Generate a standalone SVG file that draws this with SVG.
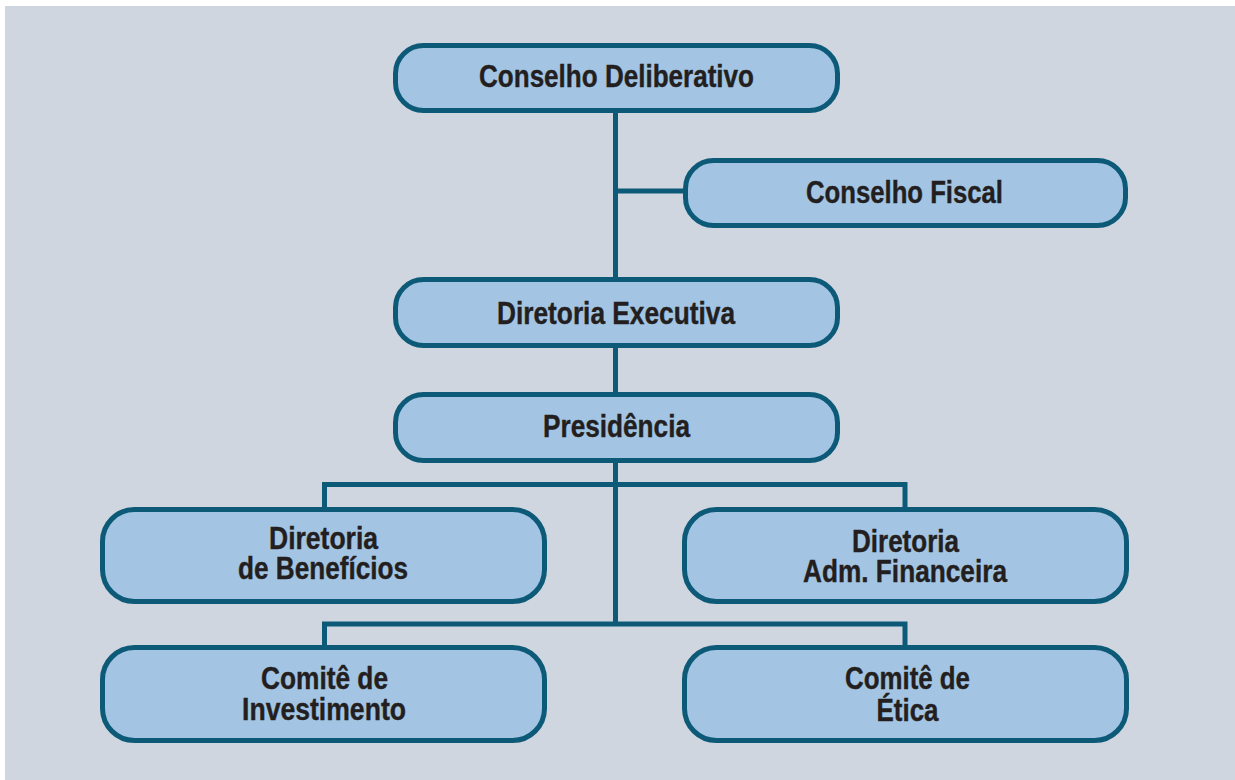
<svg xmlns="http://www.w3.org/2000/svg" width="1235" height="780" viewBox="0 0 1235 780">
<style>
.bg{fill:#d0d6df}
.box{fill:#a3c5e3;stroke:#0d5a78;stroke-width:5}
.ln{fill:none;stroke:#0d5a78;stroke-width:5}
.t{font-family:"Liberation Sans",Arial,sans-serif;font-weight:bold;font-size:31px;fill:#231f20;stroke:#231f20;stroke-width:0.4;text-anchor:middle}
</style>
<rect width="1235" height="780" fill="#ffffff"/>
<rect class="bg" x="5" y="6" width="1230" height="774"/>
<g id="connectors">
<path class="ln" d="M615.5 110 V624"/>
<path class="ln" d="M615.5 191 H686"/>
<path class="ln" d="M324.5 509 V484.5 H905 V509"/>
<path class="ln" d="M324.5 647 V624 H905 V647"/>
</g>
<g id="conselho-deliberativo">
<rect class="box" x="395.5" y="45.5" width="442" height="65" rx="28"/>
<text class="t" x="616.5" y="87" textLength="275" lengthAdjust="spacingAndGlyphs">Conselho Deliberativo</text>
</g>
<g id="conselho-fiscal">
<rect class="box" x="685.5" y="160.5" width="440" height="65" rx="28"/>
<text class="t" x="904.5" y="203" textLength="197" lengthAdjust="spacingAndGlyphs">Conselho Fiscal</text>
</g>
<g id="diretoria-executiva">
<rect class="box" x="395.5" y="279.5" width="442" height="66" rx="28"/>
<text class="t" x="616" y="324" textLength="238" lengthAdjust="spacingAndGlyphs">Diretoria Executiva</text>
</g>
<g id="presidencia">
<rect class="box" x="395.5" y="394.5" width="442" height="66" rx="28"/>
<text class="t" x="616.5" y="437" textLength="147" lengthAdjust="spacingAndGlyphs">Presidência</text>
</g>
<g id="diretoria-beneficios">
<rect class="box" x="102.5" y="509.5" width="442" height="92" rx="32"/>
<text class="t" x="323.5" y="549" textLength="109" lengthAdjust="spacingAndGlyphs">Diretoria</text>
<text class="t" x="323" y="579" textLength="170" lengthAdjust="spacingAndGlyphs">de Benefícios</text>
</g>
<g id="diretoria-adm-financeira">
<rect class="box" x="684.5" y="509.5" width="442" height="92" rx="32"/>
<text class="t" x="905.5" y="552" textLength="107" lengthAdjust="spacingAndGlyphs">Diretoria</text>
<text class="t" x="905" y="582" textLength="204" lengthAdjust="spacingAndGlyphs">Adm. Financeira</text>
</g>
<g id="comite-investimento">
<rect class="box" x="102.5" y="647.5" width="442" height="93" rx="32"/>
<text class="t" x="324.5" y="689" textLength="127" lengthAdjust="spacingAndGlyphs">Comitê de</text>
<text class="t" x="324" y="720" textLength="164" lengthAdjust="spacingAndGlyphs">Investimento</text>
</g>
<g id="comite-etica">
<rect class="box" x="684.5" y="647.5" width="442" height="93" rx="32"/>
<text class="t" x="907.5" y="689" textLength="125" lengthAdjust="spacingAndGlyphs">Comitê de</text>
<text class="t" x="907.5" y="721" textLength="62" lengthAdjust="spacingAndGlyphs">Ética</text>
</g>
</svg>
